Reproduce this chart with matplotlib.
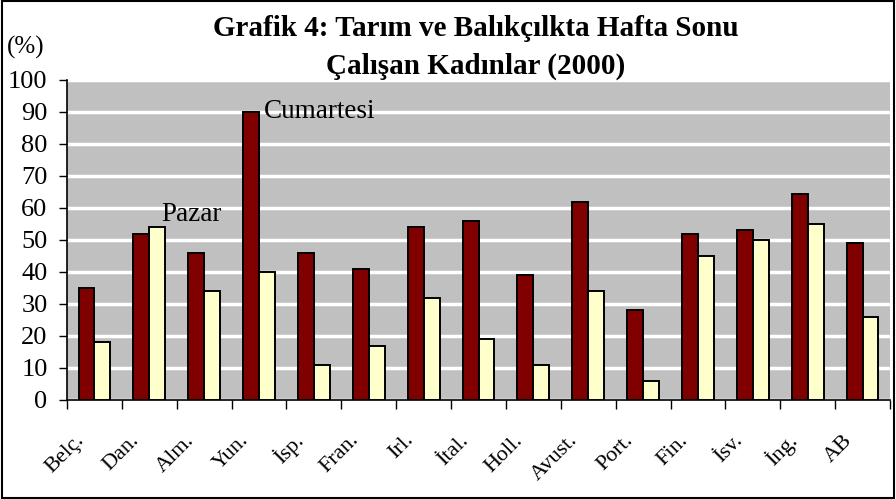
import matplotlib.pyplot as plt
import matplotlib.transforms as mtransforms
import numpy as np

# data
countries = ["Belç.", "Dan.", "Alm.", "Yun.", "İsp.", "Fran.", "Irl.", "İtal.",
             "Holl.", "Avust.", "Port.", "Fin.", "İsv.", "İng.", "AB"]
cumartesi = [35, 52, 46, 90, 46, 41, 54, 56, 39, 62, 28, 52, 53, 64.5, 49]
pazar = [18, 54, 34, 40, 11, 17, 32, 19, 11, 34, 6, 45, 50, 55, 26]
yticks = list(range(0, 101, 10))

plt.rcParams['font.family'] = ['Liberation Serif', 'DejaVu Serif']

fig = plt.figure(figsize=(8.96, 4.99), dpi=100)
ax = fig.add_axes([67 / 896, 1 - 400 / 499, 823 / 896, 320 / 499])

x = np.arange(len(countries))
w = 0.29
ax.bar(x - w / 2, cumartesi, w, color='#800000', edgecolor='black', linewidth=1.4, zorder=3)
ax.bar(x + w / 2, pazar, w, color='#FFFFCC', edgecolor='black', linewidth=1.4, zorder=3)

ax.set_facecolor('#C0C0C0')
ax.set_xlim(-0.5, len(countries) - 0.5)
ax.set_ylim(0, 100)
ax.set_yticks(yticks)
ax.yaxis.grid(True, color='white', linewidth=2.5, zorder=1)
ax.set_axisbelow(True)
ax.tick_params(axis='y', labelsize=19, length=6, width=1, pad=8)

# x ticks at category boundaries, labels centred under groups
ax.set_xticks(np.arange(-0.5, len(countries)), minor=False)
ax.set_xticklabels([])
ax.set_xticks(x, minor=True)
ax.set_xticklabels(countries, minor=True, rotation=45, ha='right', va='center',
                   rotation_mode='anchor', fontsize=16)
ax.tick_params(axis='x', which='major', length=6.5, width=1)
ax.tick_params(axis='x', which='minor', length=0, pad=27)
shift = mtransforms.ScaledTranslation(-13 / 100, 0, fig.dpi_scale_trans)
for lab in ax.get_xticklabels(minor=True):
    lab.set_transform(lab.get_transform() + shift)

for s in ['top', 'right']:
    ax.spines[s].set_visible(False)
for s in ['left', 'bottom']:
    ax.spines[s].set_linewidth(1.2)

ax.text(3 + 0.08, 90, "Cumartesi", fontsize=19.5, va='center', ha='left', zorder=4)
ax.text(1 + 0.77, 58, "Pazar", fontsize=19.5, va='center', ha='center', zorder=4)

fig.text(476 / 896, 1 - 28 / 499, "Grafik 4: Tarım ve Balıkçılkta Hafta Sonu",
         fontsize=21, fontweight='bold', ha='center', va='center')
fig.text(476 / 896, 1 - 66 / 499, "Çalışan Kadınlar (2000)",
         fontsize=21, fontweight='bold', ha='center', va='center')
fig.text(7 / 896, 1 - 47 / 499, "(%)", fontsize=18, ha='left', va='center')

# black frame around the whole figure
fig.patches.append(plt.Rectangle((0.002, 0.003), 0.996, 0.994, transform=fig.transFigure,
                                 fill=False, edgecolor='black', linewidth=1.5))

fig.savefig('out.png', dpi=100)
